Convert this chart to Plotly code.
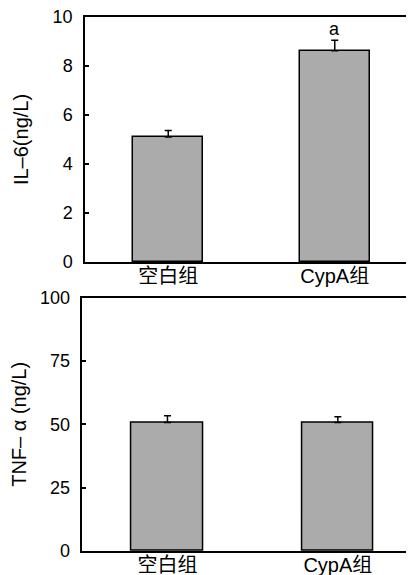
import plotly.graph_objects as go

groups = ["空白组", "CypA组"]
il6_mean = [5.1, 8.62]
il6_err = [0.27, 0.43]
tnf_mean = [50.7, 50.7]
tnf_err = [2.7, 2.3]
il6_ticks = [0, 2, 4, 6, 8, 10]
tnf_ticks = [0, 25, 50, 75, 100]
sig_labels = ["", "a"]

OFF = 8  # page body margin
W, H = 414 - OFF, 575 - OFF
fontnum = "Liberation Sans, Arial, sans-serif"
fontcjk = "Liberation Sans, Noto Sans CJK SC, sans-serif"


def px_x(v):
    return (v - OFF) / W


def px_y(v):
    return 1 - (v - OFF) / H


fig = go.Figure()
bar_style = dict(marker=dict(color="#ababab", line=dict(color="black", width=1.5)),
                 width=0.42, showlegend=False)
fig.add_trace(go.Bar(x=[0, 1], y=il6_mean,
                     error_y=dict(type="data", array=il6_err, arrayminus=[0, 0], symmetric=False,
                                  color="black", thickness=1.5, width=3.5),
                     xaxis="x", yaxis="y", **bar_style))
fig.add_trace(go.Bar(x=[0, 1], y=tnf_mean,
                     error_y=dict(type="data", array=tnf_err, arrayminus=[0, 0], symmetric=False,
                                  color="black", thickness=1.5, width=3.5),
                     xaxis="x2", yaxis="y2", **bar_style))

for i, s in enumerate(sig_labels):
    if s:
        fig.add_annotation(x=i, y=il6_mean[i] + il6_err[i], xref="x", yref="y", text=s,
                           showarrow=False, yanchor="bottom", yshift=-1,
                           font=dict(family=fontnum, size=18, color="black"))

xcommon = dict(showline=True, linecolor="black", linewidth=1.5, mirror=True, ticks="",
               tickmode="array", tickvals=[0, 1], ticktext=groups, automargin=False,
               tickfont=dict(family=fontcjk, size=20, color="black"), ticklabelstandoff=-5,
               ticklabeloverflow="allow", showgrid=False, zeroline=False)
ycommon = dict(showline=True, linecolor="black", linewidth=1.5, ticks="inside", ticklen=4,
               tickwidth=1.5, tickcolor="black", showgrid=False, zeroline=False, automargin=False,
               tickfont=dict(family=fontnum, size=18, color="black"), ticklabelstandoff=7,
               ticklabeloverflow="allow")

fig.update_layout(
    width=W, height=H, margin=dict(l=0, r=0, t=0, b=0),
    plot_bgcolor="white", paper_bgcolor="white", bargap=0,
    xaxis=dict(domain=[px_x(85), 1], range=[-0.5, 1.476], anchor="y", **xcommon),
    yaxis=dict(domain=[px_y(262), px_y(17)], range=[0, 10], anchor="x",
               tickvals=il6_ticks,
               title=dict(text="IL–6(ng/L)", font=dict(family=fontnum, size=20, color="black"), standoff=19),
               **ycommon),
    xaxis2=dict(domain=[px_x(82.3), 1], range=[-0.5, 1.447], anchor="y2", **xcommon),
    yaxis2=dict(domain=[px_y(551), px_y(297.7)], range=[0, 100], anchor="x2",
                tickvals=tnf_ticks,
                title=dict(text="TNF– α (ng/L)", font=dict(family=fontnum, size=20, color="black"), standoff=8),
                **ycommon),
)

fig.write_html("out.html")
